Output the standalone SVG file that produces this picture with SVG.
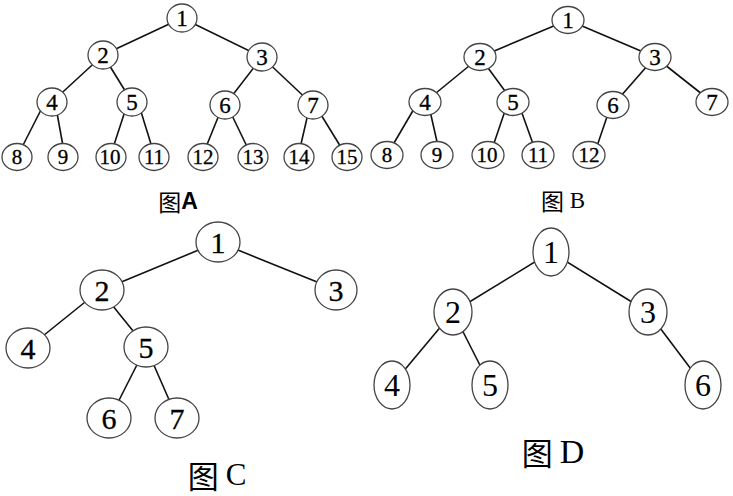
<svg xmlns="http://www.w3.org/2000/svg" width="733" height="496" viewBox="0 0 733 496">
<style>
.e{stroke:#111;stroke-width:1.6;fill:none}
ellipse{fill:#fff;stroke:#444;stroke-width:1.3}
text{font-family:"Liberation Serif","DejaVu Serif",serif;fill:#000;text-anchor:middle;dominant-baseline:central}
.a{font-size:23px;stroke:#000;stroke-width:0.3}
.al{font-size:21px;stroke:#000;stroke-width:0.3}
.c{font-size:30px;stroke:#000;stroke-width:0.3}
.d{font-size:32px}
.cap{font-family:"Noto Sans CJK SC",sans-serif}
</style>
<rect width="733" height="496" fill="#fff"/>
<g id="connectors">
<!-- A -->
<line class="e" x1="182" y1="18" x2="103" y2="55"/>
<line class="e" x1="182" y1="18" x2="262" y2="57"/>
<line class="e" x1="103" y1="55" x2="52" y2="102"/>
<line class="e" x1="103" y1="55" x2="132" y2="102"/>
<line class="e" x1="262" y1="57" x2="225" y2="105"/>
<line class="e" x1="262" y1="57" x2="313" y2="105"/>
<line class="e" x1="45" y1="102" x2="17" y2="157"/>
<line class="e" x1="55" y1="102" x2="65" y2="157"/>
<line class="e" x1="128" y1="102" x2="110" y2="157"/>
<line class="e" x1="138" y1="102" x2="155" y2="157"/>
<line class="e" x1="223" y1="105" x2="202" y2="157"/>
<line class="e" x1="227" y1="105" x2="252" y2="157"/>
<line class="e" x1="310" y1="105" x2="298" y2="157"/>
<line class="e" x1="315" y1="105" x2="347" y2="157"/>
<!-- B -->
<line class="e" x1="568" y1="20" x2="480" y2="57"/>
<line class="e" x1="568" y1="20" x2="655" y2="57"/>
<line class="e" x1="480" y1="57" x2="425" y2="102"/>
<line class="e" x1="480" y1="57" x2="513" y2="102"/>
<line class="e" x1="655" y1="57" x2="613" y2="105"/>
<line class="e" x1="655" y1="57" x2="712" y2="102"/>
<line class="e" x1="418" y1="102" x2="387" y2="155"/>
<line class="e" x1="428" y1="102" x2="440" y2="155"/>
<line class="e" x1="508" y1="102" x2="490" y2="155"/>
<line class="e" x1="518" y1="102" x2="537" y2="155"/>
<line class="e" x1="611" y1="105" x2="594" y2="155"/>
<!-- C -->
<line class="e" x1="218" y1="242" x2="102" y2="290"/>
<line class="e" x1="218" y1="242" x2="337" y2="290"/>
<line class="e" x1="100" y1="290" x2="28" y2="348"/>
<line class="e" x1="100" y1="290" x2="146" y2="347"/>
<line class="e" x1="146" y1="347" x2="110" y2="418"/>
<line class="e" x1="146" y1="347" x2="177" y2="418"/>
<!-- D -->
<line class="e" x1="551" y1="252" x2="453" y2="312"/>
<line class="e" x1="551" y1="252" x2="648" y2="312"/>
<line class="e" x1="453" y1="312" x2="392" y2="385"/>
<line class="e" x1="453" y1="312" x2="490" y2="385"/>
<line class="e" x1="648" y1="312" x2="703" y2="385"/>
</g>
<!-- Figure A -->
<g id="A1"><ellipse cx="182" cy="18" rx="15" ry="14"/><text class="a" x="182" y="18">1</text></g>
<g id="A2"><ellipse cx="103" cy="55" rx="15" ry="14"/><text class="a" x="103" y="55">2</text></g>
<g id="A3"><ellipse cx="262" cy="57" rx="15" ry="14"/><text class="a" x="262" y="57">3</text></g>
<g id="A4"><ellipse cx="52" cy="102" rx="15" ry="14"/><text class="a" x="52" y="102">4</text></g>
<g id="A5"><ellipse cx="132" cy="102" rx="15" ry="14"/><text class="a" x="132" y="102">5</text></g>
<g id="A6"><ellipse cx="225" cy="105" rx="15" ry="14"/><text class="a" x="225" y="105">6</text></g>
<g id="A7"><ellipse cx="313" cy="105" rx="15" ry="14"/><text class="a" x="313" y="105">7</text></g>
<g id="A8"><ellipse cx="17" cy="157" rx="15" ry="13.5"/><text class="al" x="17" y="157">8</text></g>
<g id="A9"><ellipse cx="63" cy="157" rx="15" ry="13.5"/><text class="al" x="63" y="157">9</text></g>
<g id="A10"><ellipse cx="111" cy="157" rx="15" ry="13.5"/><text class="al" x="110" y="157">10</text></g>
<g id="A11"><ellipse cx="154" cy="157" rx="15" ry="13.5"/><text class="al" x="154" y="157">11</text></g>
<g id="A12"><ellipse cx="203" cy="157" rx="15" ry="13.5"/><text class="al" x="203" y="157">12</text></g>
<g id="A13"><ellipse cx="253" cy="157" rx="15" ry="13.5"/><text class="al" x="253" y="157">13</text></g>
<g id="A14"><ellipse cx="299" cy="157" rx="15" ry="13.5"/><text class="al" x="299" y="157">14</text></g>
<g id="A15"><ellipse cx="347" cy="157" rx="15" ry="13.5"/><text class="al" x="347" y="157">15</text></g>
<text class="cap" x="178" y="201" font-size="23">图<tspan font-family="Liberation Sans" font-weight="bold">A</tspan></text>
<!-- Figure B -->
<g id="B1"><ellipse cx="568" cy="20" rx="16" ry="13.5"/><text class="a" x="568" y="20">1</text></g>
<g id="B2"><ellipse cx="480" cy="57" rx="16" ry="13.5"/><text class="a" x="480" y="57">2</text></g>
<g id="B3"><ellipse cx="655" cy="57" rx="16" ry="13.5"/><text class="a" x="655" y="57">3</text></g>
<g id="B4"><ellipse cx="425" cy="102" rx="16" ry="13.5"/><text class="a" x="425" y="102">4</text></g>
<g id="B5"><ellipse cx="513" cy="102" rx="16" ry="13.5"/><text class="a" x="513" y="102">5</text></g>
<g id="B6"><ellipse cx="613" cy="105" rx="16" ry="13.5"/><text class="a" x="613" y="105">6</text></g>
<g id="B7"><ellipse cx="712" cy="102" rx="16" ry="13.5"/><text class="a" x="712" y="102">7</text></g>
<g id="B8"><ellipse cx="387" cy="155" rx="16" ry="13.5"/><text class="al" x="387" y="155">8</text></g>
<g id="B9"><ellipse cx="437" cy="155" rx="16" ry="13.5"/><text class="al" x="437" y="155">9</text></g>
<g id="B10"><ellipse cx="488" cy="155" rx="16" ry="13.5"/><text class="al" x="487" y="155">10</text></g>
<g id="B11"><ellipse cx="538" cy="155" rx="16" ry="13.5"/><text class="al" x="538" y="155">11</text></g>
<g id="B12"><ellipse cx="589" cy="155" rx="16" ry="13.5"/><text class="al" x="589" y="155">12</text></g>
<text class="cap" x="563" y="200" font-size="23">图<tspan font-family="Liberation Serif"> B</tspan></text>
<!-- Figure C -->
<g id="C1"><ellipse cx="218" cy="242" rx="22" ry="20"/><text class="c" x="218" y="242">1</text></g>
<g id="C2"><ellipse cx="102" cy="290" rx="22" ry="20"/><text class="c" x="102" y="290">2</text></g>
<g id="C3"><ellipse cx="336" cy="290" rx="21" ry="20"/><text class="c" x="336" y="290">3</text></g>
<g id="C4"><ellipse cx="28" cy="348" rx="22" ry="20"/><text class="c" x="28" y="348">4</text></g>
<g id="C5"><ellipse cx="146" cy="347" rx="22" ry="20"/><text class="c" x="146" y="347">5</text></g>
<g id="C6"><ellipse cx="109" cy="418" rx="22" ry="20"/><text class="c" x="109" y="418">6</text></g>
<g id="C7"><ellipse cx="177" cy="418" rx="22" ry="20"/><text class="c" x="177" y="418">7</text></g>
<text class="cap" x="217" y="474" font-size="31">图 <tspan font-family="Liberation Serif">C</tspan></text>
<!-- Figure D -->
<g id="D1"><ellipse cx="551" cy="252" rx="18" ry="24"/><text class="d" x="551" y="252">1</text></g>
<g id="D2"><ellipse cx="453" cy="312" rx="19" ry="23"/><text class="d" x="453" y="312">2</text></g>
<g id="D3"><ellipse cx="648" cy="312" rx="19" ry="23"/><text class="d" x="648" y="312">3</text></g>
<g id="D4"><ellipse cx="392" cy="385" rx="18" ry="24"/><text class="d" x="392" y="385">4</text></g>
<g id="D5"><ellipse cx="490" cy="385" rx="18" ry="24"/><text class="d" x="490" y="385">5</text></g>
<g id="D6"><ellipse cx="703" cy="385" rx="18" ry="24"/><text class="d" x="703" y="385">6</text></g>
<text class="cap" x="553" y="451" font-size="31">图 <tspan font-family="Liberation Serif" font-size="34">D</tspan></text>
</svg>
